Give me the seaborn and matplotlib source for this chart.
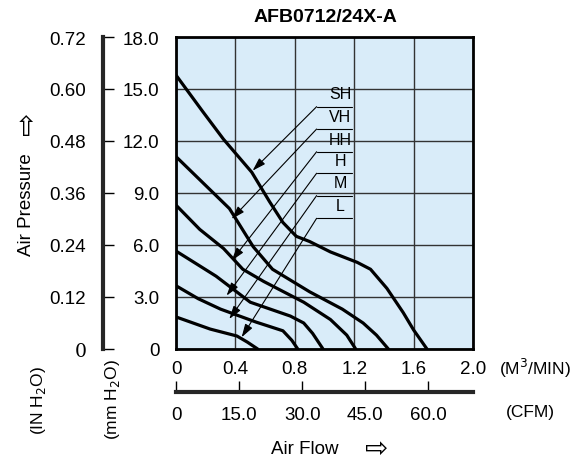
import matplotlib
matplotlib.use("Agg")
import matplotlib.pyplot as plt
import seaborn as sns
import pandas as pd
import numpy as np

sns.set_style("white")
plt.rcParams['font.family'] = ['Liberation Sans', 'DejaVu Sans']
plt.rcParams['text.color'] = 'black'
plt.rcParams['xtick.color'] = 'black'
plt.rcParams['ytick.color'] = 'black'

# flow in m3/min, pressure in mmH2O
sh_x = [0.0, 0.18, 0.32, 0.51, 0.63, 0.72, 0.81, 0.90, 1.04, 1.22, 1.31, 1.42, 1.53, 1.60, 1.69]
sh_y = [15.8, 13.7, 12.1, 10.2, 8.5, 7.3, 6.5, 6.2, 5.6, 5.0, 4.6, 3.5, 2.1, 1.1, 0.0]
vh_x = [0.0, 0.18, 0.36, 0.52, 0.65, 0.90, 1.12, 1.26, 1.35, 1.43]
vh_y = [11.1, 9.6, 8.1, 5.9, 4.6, 3.3, 2.3, 1.5, 0.8, 0.0]
hh_x = [0.0, 0.16, 0.32, 0.45, 0.59, 0.86, 1.04, 1.15, 1.21]
hh_y = [8.3, 6.9, 5.8, 4.6, 3.9, 2.7, 1.7, 0.8, 0.0]
h_x = [0.0, 0.14, 0.27, 0.50, 0.77, 0.86, 0.92, 0.99]
h_y = [5.65, 4.9, 4.2, 2.7, 1.9, 1.5, 0.9, 0.0]
m_x = [0.0, 0.15, 0.30, 0.54, 0.72, 0.78, 0.82]
m_y = [3.65, 2.9, 2.3, 1.55, 1.05, 0.5, 0.0]
l_x = [0.0, 0.23, 0.41, 0.48, 0.55]
l_y = [1.85, 1.15, 0.75, 0.4, 0.0]
names = ["SH", "VH", "HH", "H", "M", "L"]
arrow_tip_x = [0.516, 0.375, 0.375, 0.341, 0.359, 0.442]
arrow_tip_y = [10.29, 7.5, 5.1, 3.08, 1.73, 0.68]
label_line_y = [13.98, 12.69, 11.38, 10.14, 8.85, 7.54]

x_ticks = [0, 0.4, 0.8, 1.2, 1.6, 2.0]
x_ticklabels = ["0", "0.4", "0.8", "1.2", "1.6", "2.0"]
y_ticks = [0, 3, 6, 9, 12, 15, 18]
y_ticklabels = ["0", "3.0", "6.0", "9.0", "12.0", "15.0", "18.0"]
in_ticks = [0, 0.12, 0.24, 0.36, 0.48, 0.60, 0.72]
in_ticklabels = ["0", "0.12", "0.24", "0.36", "0.48", "0.60", "0.72"]
cfm_ticks = [0, 15, 30, 45, 60]
cfm_ticklabels = ["0", "15.0", "30.0", "45.0", "60.0"]

FS = 13.5
W, H = 581, 464
fig = plt.figure(figsize=(5.81, 4.64), dpi=100)
ax = fig.add_axes([176 / W, 1 - 350 / H, 297 / W, 312 / H])
ax.set_facecolor("#d9ecf9")
ax.set_xlim(0, 2.0)
ax.set_ylim(0, 18)

rows = []
for n, xs, ys in zip(names, [sh_x, vh_x, hh_x, h_x, m_x, l_x], [sh_y, vh_y, hh_y, h_y, m_y, l_y]):
    for a, b in zip(xs, ys):
        rows.append((n, a, b))
df = pd.DataFrame(rows, columns=["curve", "flow", "pressure"])
for n in names:
    sub = df[df.curve == n]
    sns.lineplot(data=sub, x="flow", y="pressure", ax=ax, color="black", lw=2.3,
                 sort=False, estimator=None, legend=False)
for ln in ax.get_lines():
    ln.set_solid_joinstyle("round")

ax.set_xticks(x_ticks)
ax.set_yticks(y_ticks)
ax.grid(True, color="#333333", lw=1.0)
ax.set_xticklabels(x_ticklabels, fontsize=FS)
ax.set_yticklabels(y_ticklabels, fontsize=FS)
ax.tick_params(axis="both", length=0, pad=8)
ax.tick_params(axis="y", pad=12)
ax.set_xlabel("")
ax.set_ylabel("")
for s in ax.spines.values():
    s.set_color("black")
    s.set_linewidth(2.0)

# labels with leaders
for n, tx, ty, ly in zip(names, arrow_tip_x, arrow_tip_y, label_line_y):
    x0, x1 = 0.947, 1.183
    ax.plot([x0, x1], [ly, ly], color="black", lw=0.8)
    ax.text((x0 + x1) / 2 + 0.04, ly + 0.3, n, ha="center", va="bottom", fontsize=11.5)
    ax.annotate("", xy=(tx, ty), xytext=(x0, ly),
                arrowprops=dict(arrowstyle="-|>,head_length=0.8,head_width=0.25",
                                color="black", lw=0.8, shrinkA=0, shrinkB=0))

# inH2O axis
sec = ax.secondary_yaxis((103 - 176) / 297, functions=(lambda v: v / 25.0, lambda v: v * 25.0))
sec.set_yticks(in_ticks)
sec.set_yticklabels(in_ticklabels, fontsize=FS)
sec.tick_params(axis="y", direction="in", length=8, width=1, pad=12)
sec.spines["left"].set_linewidth(3)
sec.get_yticklabels()[0].set_family("DejaVu Serif")

# CFM axis
secx = ax.secondary_xaxis((350 - 393) / 312, functions=(lambda v: v * 35.31, lambda v: v / 35.31))
secx.set_xticks(cfm_ticks)
secx.set_xticklabels(cfm_ticklabels, fontsize=FS)
secx.tick_params(axis="x", direction="in", length=8, width=1, pad=10)
secx.spines["bottom"].set_linewidth(3)

fig.text(325 / W, 1 - 17 / H, "AFB0712/24X-A", ha="center", va="center", fontsize=14, fontweight="bold")
fig.text(535 / W, 1 - 368 / H, "(M$^3$/MIN)", ha="center", va="center", fontsize=12.5)
fig.text(530 / W, 1 - 412 / H, "(CFM)", ha="center", va="center", fontsize=12.5)
fig.text(305 / W, 1 - 450 / H, "Air Flow", ha="center", va="center", fontsize=FS)
fig.text(377 / W, 1 - 449 / H, "⇨", ha="center", va="center", fontsize=20, family="DejaVu Sans")
fig.text(27 / W, 1 - 205 / H, "Air Pressure", ha="center", va="center", fontsize=FS, rotation=90)
fig.text(27 / W, 1 - 123 / H, "⇨", ha="center", va="center", fontsize=20, rotation=90, family="DejaVu Sans")
fig.text(38 / W, 1 - 400 / H, "(IN H$_2$O)", ha="center", va="center", fontsize=12.5, rotation=90)
fig.text(112 / W, 1 - 400 / H, "(mm H$_2$O)", ha="center", va="center", fontsize=12.5, rotation=90)

fig.savefig("out.png", dpi=100)
